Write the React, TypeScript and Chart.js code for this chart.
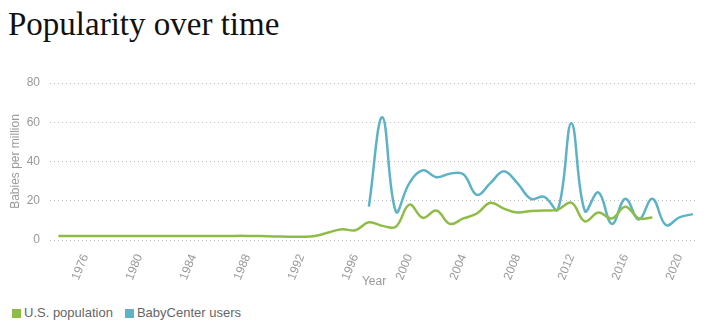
import React, { useEffect, useRef } from "react";
import { Chart, registerables } from "chart.js";

Chart.register(...registerables);

// ---- data ----
const titleText = "Popularity over time";
const seriesNames = ["U.S. population", "BabyCenter users"];
const seriesColors = ["#8fbc47", "#5db3c5"];

const usYears = [
  1974, 1975, 1976, 1977, 1978, 1979, 1980, 1981, 1982, 1983, 1984, 1985, 1986, 1987, 1988,
  1989, 1990, 1991, 1992, 1993, 1994, 1995, 1996, 1997, 1998, 1999, 2000, 2001, 2002, 2003,
  2004, 2005, 2006, 2007, 2008, 2009, 2010, 2011, 2012, 2013, 2014, 2015, 2016, 2017, 2018,
];
const usPopulation = [
  2.1, 2.1, 2.1, 2.1, 2.1, 2.1, 2.1, 2.1, 2.1, 2.1, 2.1, 2.1, 2.1, 2.1, 2.1,
  2.0, 1.8, 1.7, 1.7, 2.0, 3.8, 5.5, 5.0, 9.0, 7.2, 6.8, 18, 11.3, 15, 8.2,
  11, 13.5, 19, 16, 14, 14.8, 15, 15.5, 19, 9.5, 14, 11, 17, 11, 11.5,
];

const bcYears = [
  1997, 1998, 1999, 2000, 2001, 2002, 2003, 2004, 2005, 2006, 2007, 2008, 2009,
  2010, 2011, 2012, 2013, 2014, 2015, 2016, 2017, 2018, 2019, 2020, 2021,
];
const babyCenterUsers = [
  17, 62.5, 14.5, 29, 35.5, 32, 33.8, 33.5, 23, 29, 35, 29, 21,
  22, 15.5, 59.5, 14.8, 24.3, 8.2, 21, 10.5, 21, 7.6, 11.5, 13.2,
];

const tickYears = [1976, 1980, 1984, 1988, 1992, 1996, 2000, 2004, 2008, 2012, 2016, 2020];
const yTicks = [0, 20, 40, 60, 80];
const xTitle = "Year";
const yTitle = "Babies per million";

const SANS = "'Liberation Sans', Arial, Helvetica, sans-serif";

export default function App() {
  const ref = useRef<HTMLCanvasElement | null>(null);

  useEffect(() => {
    if (!ref.current) return;
    const chart = new Chart(ref.current, {
      type: "line",
      data: {
        datasets: [
          {
            label: seriesNames[0],
            data: usYears.map((x, i) => ({ x, y: usPopulation[i] })),
            borderColor: seriesColors[0],
            backgroundColor: seriesColors[0],
            borderWidth: 2.5,
            pointRadius: 0,
            tension: 0.4,
            fill: false,
          },
          {
            label: seriesNames[1],
            data: bcYears.map((x, i) => ({ x, y: babyCenterUsers[i] })),
            borderColor: seriesColors[1],
            backgroundColor: seriesColors[1],
            borderWidth: 2.5,
            pointRadius: 0,
            tension: 0.4,
            fill: false,
          },
        ],
      },
      options: {
        animation: false,
        responsive: false,
        maintainAspectRatio: false,
        layout: { padding: { top: 23, right: 10, left: 0, bottom: 0 } },
        plugins: {
          legend: { display: false },
          tooltip: { enabled: false },
          title: { display: false },
        },
        scales: {
          x: {
            type: "linear",
            min: 1973.38,
            max: 2021.38,
            afterBuildTicks: (s: any) => {
              s.ticks = tickYears.map((y) => ({ value: y }));
            },
            afterFit: (s: any) => {
              s.height = 50;
            },
            ticks: {
              autoSkip: false,
              maxRotation: 68,
              minRotation: 68,
              color: "#999999",
              font: { family: SANS, size: 12 },
              padding: 4,
              callback: (_v: any, i: number) => String(tickYears[i]),
            },
            grid: { display: false },
            border: { display: false },
            title: {
              display: true,
              text: xTitle,
              color: "#999999",
              font: { family: SANS, size: 12 },
              padding: { top: 0, bottom: 1 },
            },
          },
          y: {
            min: 0,
            max: 80,
            afterBuildTicks: (s: any) => {
              s.ticks = yTicks.map((v) => ({ value: v }));
            },
            afterFit: (s: any) => {
              s.width = 50;
            },
            ticks: {
              color: "#999999",
              font: { family: SANS, size: 12 },
              padding: 10,
            },
            grid: { color: "#bdbdbd", lineWidth: 1, drawTicks: false },
            border: { display: false, dash: [1, 3] },
            title: {
              display: true,
              text: yTitle,
              color: "#999999",
              font: { family: SANS, size: 12 },
              padding: { top: 8, bottom: 0 },
            },
          },
        },
      },
    } as any);
    return () => chart.destroy();
  }, []);

  return (
    <div style={{ position: "absolute", left: 0, top: 0, width: 708, height: 329, background: "#fff" }}>
      <div
        style={{
          position: "absolute",
          left: 8,
          top: 8,
          fontFamily: "'Liberation Serif', 'Times New Roman', serif",
          fontSize: 33,
          lineHeight: "33px",
          color: "#111",
          whiteSpace: "nowrap",
        }}
      >
        {titleText}
      </div>
      <canvas
        ref={ref}
        width={708}
        height={230}
        style={{ position: "absolute", left: 0, top: 60, width: 708, height: 230, display: "block" }}
      />
      <div
        style={{
          position: "absolute",
          left: 12,
          top: 304,
          display: "flex",
          alignItems: "center",
          fontFamily: SANS,
          fontSize: 13,
          lineHeight: "18px",
          color: "#666",
          whiteSpace: "nowrap",
        }}
      >
        {seriesNames.map((name, i) => (
          <div key={name} style={{ display: "flex", alignItems: "center", marginRight: 12 }}>
            <span
              style={{
                display: "inline-block",
                width: 9,
                height: 9,
                background: seriesColors[i],
                marginRight: 3,
              }}
            />
            <span>{name}</span>
          </div>
        ))}
      </div>
    </div>
  );
}
